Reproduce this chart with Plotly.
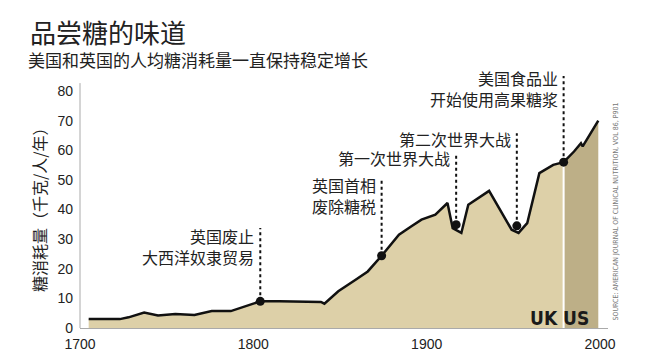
import plotly.graph_objects as go

# ---- data ----
years = [1705, 1723, 1728, 1737, 1745, 1755, 1766, 1776, 1787, 1795, 1804, 1815,
         1839, 1841, 1849, 1859, 1866, 1874, 1884, 1891, 1897, 1905, 1912, 1915,
         1920, 1924, 1936, 1949, 1953, 1958, 1965, 1973, 1979, 1985, 1989, 1990,
         1995, 1999]
sugar = [3.0, 3.0, 3.6, 5.2, 4.2, 4.7, 4.4, 5.7, 5.7, 7.2, 9.0, 9.0,
         8.8, 8.2, 12.4, 16.3, 19.1, 24.4, 31.5, 34.3, 36.6, 38.3, 42.2, 33.7,
         32.1, 41.6, 46.3, 33.2, 32.1, 35.4, 52.3, 55.1, 56.0, 59.6, 62.4, 61.3,
         66.4, 70.0]
split_year = 1979  # UK data before, US data after

event_years = [1804, 1874, 1917, 1952, 1979]
event_values = [9.0, 24.4, 34.9, 34.5, 56.0]
event_labels = ["英国废止<br>大西洋奴隶贸易",
                "英国首相<br>废除糖税",
                "第一次世界大战",
                "第二次世界大战",
                "美国食品业<br>开始使用高果糖浆"]
# layout: top of each dotted leader and the vertical centre of each label (data units)
event_tops = [33.8, 50.6, 58.4, 65.8, 85.1]
event_label_y = [27.5, 44.7, 57.4, 63.8, 81.0]

x_ticks = [1700, 1800, 1900, 2000]
y_ticks = [0, 10, 20, 30, 40, 50, 60, 70, 80]

CJK = "Noto Sans CJK SC, sans-serif"
TXT = "#222222"

uk_x = [y for y in years if y <= split_year]
uk_y = [v for y, v in zip(years, sugar) if y <= split_year]
us_x = [y for y in years if y >= split_year]
us_y = [v for y, v in zip(years, sugar) if y >= split_year]

fig = go.Figure()
fig.add_trace(go.Scatter(x=uk_x, y=uk_y, mode="lines", fill="tozeroy",
                         line=dict(width=0), fillcolor="#DDD0A8", hoverinfo="skip"))
fig.add_trace(go.Scatter(x=us_x, y=us_y, mode="lines", fill="tozeroy",
                         line=dict(width=0), fillcolor="#BDAF87", hoverinfo="skip"))
fig.add_trace(go.Scatter(x=[split_year, split_year], y=[0, us_y[0]], mode="lines",
                         line=dict(color="white", width=2), hoverinfo="skip"))
fig.add_trace(go.Scatter(x=years, y=sugar, mode="lines",
                         line=dict(color="#111111", width=2.5)))
for yr, v, top in zip(event_years, event_values, event_tops):
    fig.add_trace(go.Scatter(x=[yr, yr], y=[v, top], mode="lines",
                             line=dict(color="#111111", width=2, dash="dot"),
                             hoverinfo="skip"))
fig.add_trace(go.Scatter(x=event_years, y=event_values, mode="markers",
                         marker=dict(color="#111111", size=9), cliponaxis=False))

annotations = []
for yr, lab, ly in zip(event_years, event_labels, event_label_y):
    annotations.append(dict(x=yr, y=ly, xref="x", yref="y", text=lab,
                            showarrow=False, xanchor="right", yanchor="middle",
                            align="right", xshift=-4,
                            font=dict(family=CJK, size=16, color=TXT)))

annotations += [
    dict(x=-0.0985, y=1.142, xref="paper", yref="paper", text="品尝糖的味道",
         showarrow=False, xanchor="left", yanchor="middle",
         font=dict(family=CJK, size=26, color=TXT)),
    dict(x=-0.102, y=1.031, xref="paper", yref="paper",
         text="美国和英国的人均糖消耗量一直保持稳定增长",
         showarrow=False, xanchor="left", yanchor="middle",
         font=dict(family=CJK, size=17, color=TXT)),
    dict(x=0, y=0.469, xref="paper", yref="paper", xshift=-41,
         text="糖消耗量（千克/人/年）", textangle=-90, showarrow=False,
         xanchor="center", yanchor="middle",
         font=dict(family=CJK, size=16, color=TXT)),
    dict(x=1967.7, y=3.4, xref="x", yref="y", text="<b>UK</b>", showarrow=False,
         xanchor="center", yanchor="middle",
         font=dict(family="Liberation Sans Narrow, DejaVu Sans Condensed, sans-serif",
                   size=19, color="#1a1a1a")),
    dict(x=1986.2, y=3.4, xref="x", yref="y", text="<b>US</b>", showarrow=False,
         xanchor="center", yanchor="middle",
         font=dict(family="Liberation Sans Narrow, DejaVu Sans Condensed, sans-serif",
                   size=19, color="#1a1a1a")),
    dict(x=1.0133, y=0.448, xref="paper", yref="paper",
         text="SOURCE: AMERICAN JOURNAL OF CLINICAL NUTRITION, VOL 86, P901",
         textangle=-90, showarrow=False, xanchor="center", yanchor="middle",
         font=dict(family="DejaVu Sans Condensed, Liberation Sans Narrow, sans-serif",
                   size=7, color="#777777")),
]

fig.update_layout(
    width=645, height=357,
    margin=dict(l=72, r=45, t=60, b=37),
    paper_bgcolor="white", plot_bgcolor="white",
    showlegend=False,
    annotations=annotations,
    shapes=[dict(type="line", xref="paper", yref="y", x0=0, x1=0, y0=0, y1=82.7,
                 line=dict(color="#aaaaaa", width=1))],
    xaxis=dict(range=[1700, 2004.6], tickvals=x_ticks, showgrid=False, zeroline=False,
               showline=True, linecolor="#aaaaaa", linewidth=1, ticks="",
               ticklabelstandoff=3,
               tickfont=dict(family="Liberation Sans, Arial, sans-serif", size=14, color=TXT)),
    yaxis=dict(range=[0, 87.8], tickvals=y_ticks, showgrid=False, zeroline=False,
               showline=False, ticks="", ticklabelstandoff=6,
               tickfont=dict(family="Liberation Sans, Arial, sans-serif", size=14, color=TXT)),
)

fig.write_html("out.html")
